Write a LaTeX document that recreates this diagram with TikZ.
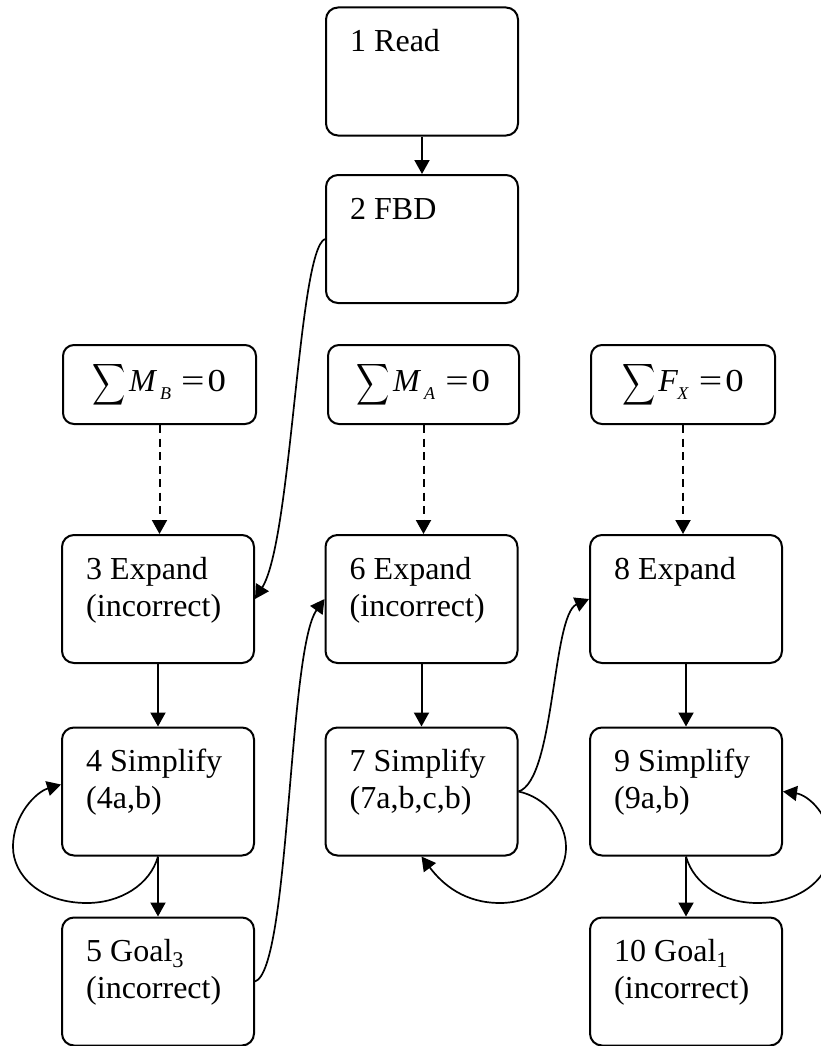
\documentclass[tikz,border=0pt]{standalone}
\usepackage{fontspec}
\setmainfont{Liberation Serif}
\usetikzlibrary{arrows.meta,calc}
\tikzset{
 box/.style={draw, line width=2pt, rounded corners=12pt, minimum width=192pt, minimum height=128pt, inner sep=0pt},
 sumbox/.style={draw, line width=2pt, rounded corners=11pt, minimum height=79pt, inner sep=0pt, font=\fontsize{32}{36}\selectfont},
 txt/.style={anchor=north west, inner sep=0pt, align=left, font=\fontsize{32}{37}\selectfont},
 arr/.style={line width=2pt, -{Triangle[length=14pt,width=15pt]}},
 darr/.style={arr, dash pattern=on 8pt off 5.5pt},
 curv/.style={line width=1.7pt, -{Triangle[length=14pt,width=15pt]}},
}
\newcommand{\sumeq}[3]{{\normalsize\scalebox{2.3}[2.9]{$\displaystyle\sum$}}\kern3pt\textit{#1}\kern#3\raisebox{-8pt}{\fontsize{18}{18}\selectfont\textit{#2}}\kern10pt\scalebox{1.3}[1]{=}\kern3pt\scalebox{1.15}[1]{0}}
\newcommand{\fs}{\rule{0pt}{25pt}}
\begin{document}
\begin{tikzpicture}[x=1pt,y=-1pt]
\useasboundingbox (0,0) rectangle (821,1046);
\clip (0,0) rectangle (821,1046);
% boxes
\node[box] (n1) at (422,71.5) {};
\node[box] (n2) at (422,239) {};
\node[box] (n3) at (158,599) {};
\node[box] (n4) at (158,791.5) {};
\node[box] (n5) at (158,981.5) {};
\node[box] (n6) at (421.5,599) {};
\node[box] (n7) at (421.5,791.5) {};
\node[box] (n8) at (686,599) {};
\node[box] (n9) at (686,791.5) {};
\node[box] (n10) at (686,981.5) {};
\node[sumbox, minimum width=193pt] (sB) at (159.5,384.5) {\sumeq{M}{B}{3pt}};
\node[sumbox, minimum width=191pt] (sA) at (423.5,384.5) {\sumeq{M}{A}{3pt}};
\node[sumbox, minimum width=184pt] (sF) at (683,384.5) {\sumeq{F}{X}{-1pt}};
% texts
\node[txt] (t1) at ($(n1.north west)+(25,20)$) {\fs 1 Read};
\node[txt] (t2) at ($(n2.north west)+(25,20)$) {\fs 2 FBD};
\node[txt] (t3) at ($(n3.north west)+(25,20)$) {\fs 3 Expand\\(incorrect)};
\node[txt] (t4) at ($(n4.north west)+(25,20)$) {\fs 4 Simplify\\(4a,b)};
\node[txt] (t5) at ($(n5.north west)+(25,20)$) {\fs 5 Goal\textsubscript{3}\\(incorrect)};
\node[txt] (t6) at ($(n6.north west)+(25,20)$) {\fs 6 Expand\\(incorrect)};
\node[txt] (t7) at ($(n7.north west)+(25,20)$) {\fs 7 Simplify\\(7a,b,c,b)};
\node[txt] (t8) at ($(n8.north west)+(25,20)$) {\fs 8 Expand};
\node[txt] (t9) at ($(n9.north west)+(25,20)$) {\fs 9 Simplify\\(9a,b)};
\node[txt] (t10) at ($(n10.north west)+(25,20)$) {\fs 10 Goal\textsubscript{1}\\(incorrect)};
% straight arrows
\draw[arr] (n1) -- (n2);
\draw[arr] (n3) -- (n4);
\draw[arr] (n4) -- (n5);
\draw[arr] (n6) -- (n7);
\draw[arr] (n8) -- (n9);
\draw[arr] (n9) -- (n10);
\draw[darr] (sB.south) -- (sB.south |- n3.north);
\draw[darr] (sA.south) -- (sA.south |- n6.north);
\draw[darr] (sF.south) -- (sF.south |- n8.north);
% curved connectors
\draw[curv] (n2.west) .. controls (298,250) and (292,540) .. (n3.east);
\draw[curv] (n5.east) .. controls (290,970) and (288,650) .. (n6.west);
\draw[curv] (n7.east) .. controls (555,780) and (552,615) .. (n8.west);
\draw[curv] (n7.east) .. controls (545,797) and (566,822) .. (566,847)
  .. controls (566,880) and (535,903) .. (500,903)
  .. controls (465,903) and (443,885) .. (n7.south);
\draw[curv] (n4.south) .. controls (150,885) and (120,903) .. (87,903)
  .. controls (40,903) and (13,875) .. (13,847)
  .. controls (13,815) and (36,792) .. ($(n4.west)+(0,-7)$);
\draw[curv] (n9.south) .. controls (694,885) and (724,903) .. (757,903)
  .. controls (804,903) and (831,875) .. (831,847)
  .. controls (831,815) and (808,795) .. (n9.east);
\end{tikzpicture}
\end{document}
